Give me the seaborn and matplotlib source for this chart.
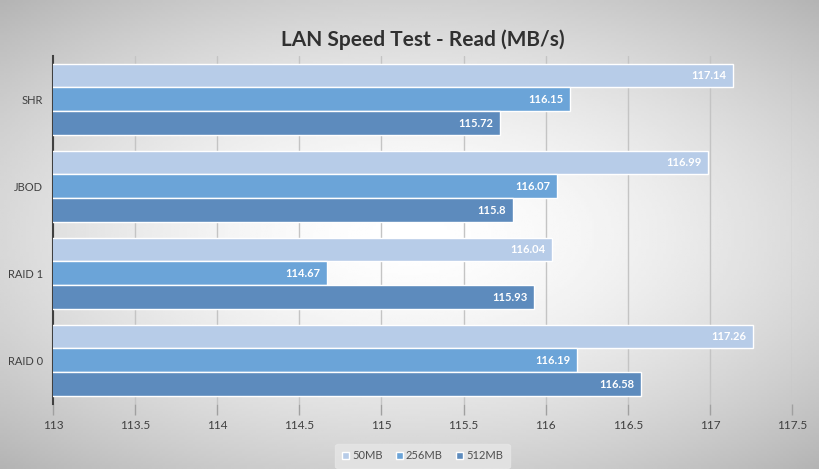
import numpy as np
import pandas as pd
import matplotlib
matplotlib.use('Agg')
import matplotlib.pyplot as plt
import seaborn as sns

# 数据
categories = ['SHR', 'JBOD', 'RAID 1', 'RAID 0']
sizes = ['50MB', '256MB', '512MB']
read_50mb = [117.14, 116.99, 116.04, 117.26]
read_256mb = [116.15, 116.07, 114.67, 116.19]
read_512mb = [115.72, 115.80, 115.93, 116.58]
x_ticks = [113, 113.5, 114, 114.5, 115, 115.5, 116, 116.5, 117, 117.5]
x_tick_labels = ['113', '113.5', '114', '114.5', '115', '115.5', '116', '116.5', '117', '117.5']

colors = ['#b7cce8', '#6ba4d8', '#5d8bbd']

df = pd.DataFrame({
    'type': categories * 3,
    'size': [s for s in sizes for _ in categories],
    'speed': read_50mb + read_256mb + read_512mb,
})

sns.set_style('white')
plt.rcParams['font.family'] = ['Lato', 'DejaVu Sans']

fig = plt.figure(figsize=(8.2, 4.69), dpi=100)

# 背景渐变
bg = fig.add_axes([0, 0, 1, 1], zorder=-10)
yy, xx = np.mgrid[-1:1:200j, -1:1:300j]
r = np.sqrt((xx * 0.85) ** 2 + (yy * 0.95) ** 2)
bg.imshow(1 - 0.2 * np.clip(r, 0, 1.3) ** 1.6, cmap='gray', vmin=0, vmax=1,
          aspect='auto', extent=[0, 1, 0, 1])
bg.axis('off')

ax = fig.add_axes([0.0646, 0.139, 0.9014, 0.742])
ax.patch.set_alpha(0)
sns.barplot(data=df, y='type', x='speed', hue='size', order=categories,
            hue_order=sizes, palette=colors, saturation=1, orient='h',
            width=0.82, edgecolor='white', linewidth=1, ax=ax, legend=True,
            zorder=3)

ax.set_xlim(113, 117.5)
ax.set_ylim(3.5, -0.5)
ax.set_xticks(x_ticks)
ax.set_xticklabels(x_tick_labels)
ax.grid(axis='x', color='#c4c4c4', linewidth=1, zorder=0)
ax.set_axisbelow(True)
for s in ['top', 'right', 'bottom']:
    ax.spines[s].set_visible(False)
ax.spines['left'].set_color('#404040')
ax.spines['left'].set_linewidth(1.5)
ax.tick_params(axis='x', length=8, width=1, color='#a0a0a0', labelsize=8.5,
               labelcolor='#404040', pad=4, bottom=True)
ax.tick_params(axis='y', length=0, labelsize=8, labelcolor='#404040', pad=7)
ax.set_xlabel('')
ax.set_ylabel('')

# 数值标签
for cont in ax.containers:
    for bar in cont:
        w = bar.get_x() + bar.get_width()
        ax.text(w - 0.04, bar.get_y() + bar.get_height() / 2, f'{w:g}',
                ha='right', va='center', color='white', fontsize=8,
                fontweight='bold', zorder=5)

ax.set_title('LAN Speed Test - Read (MB/s)', fontsize=15, color='#303030',
             fontweight='bold', pad=7)

leg = ax.legend(loc='lower center', bbox_to_anchor=(0.5, -0.2), ncol=3,
                frameon=True, fontsize=8, handlelength=0.6, handleheight=0.6,
                handletextpad=0.3, columnspacing=1.2, borderpad=0.6)
leg.get_frame().set_facecolor('#e6e6e6')
leg.get_frame().set_edgecolor('#e6e6e6')
for t in leg.get_texts():
    t.set_color('#505050')

fig.savefig('out.png', dpi=100)
